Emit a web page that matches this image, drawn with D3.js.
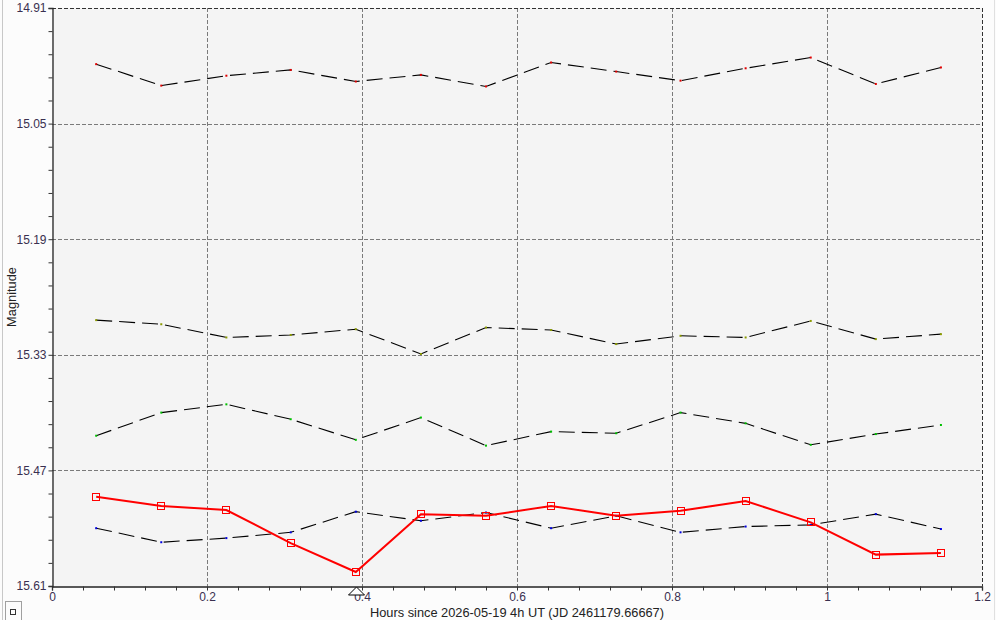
<!DOCTYPE html>
<html>
<head>
<meta charset="utf-8">
<script src="https://cdn.jsdelivr.net/npm/d3@7"></script>
<style>
  body { margin: 0; background: #fcfcfc; }
  svg { display: block; font-family: "Liberation Sans", Arial, sans-serif; }
</style>
</head>
<body>
<svg id="chart" width="996" height="620"></svg>
<script>
// time of each observation (hours since the JD reference)
var hours = [0.057, 0.141, 0.225, 0.308, 0.392, 0.476, 0.560, 0.644, 0.728, 0.811, 0.895, 0.979, 1.063, 1.147];

// target star (red, with square markers)
var targetMag = [15.502, 15.513, 15.518, 15.558, 15.593, 15.523, 15.525, 15.513, 15.525, 15.519, 15.507, 15.533, 15.572, 15.570];

// comparison / check stars (dashed lines)
var comp1Mag = [14.978, 15.004, 14.992, 14.985, 14.999, 14.991, 15.005, 14.976, 14.987, 14.998, 14.983, 14.970, 15.002, 14.982];
var comp2Mag = [15.288, 15.293, 15.309, 15.306, 15.299, 15.329, 15.297, 15.300, 15.317, 15.307, 15.309, 15.289, 15.311, 15.305];
var comp3Mag = [15.428, 15.400, 15.390, 15.408, 15.433, 15.406, 15.440, 15.423, 15.425, 15.400, 15.413, 15.439, 15.426, 15.415];
var comp4Mag = [15.540, 15.557, 15.552, 15.545, 15.520, 15.531, 15.521, 15.540, 15.525, 15.545, 15.538, 15.536, 15.523, 15.541];
var compDotColors = ["#e00000", "#8a9a00", "#00c000", "#0000e0"];

var xTicks = [0, 0.2, 0.4, 0.6, 0.8, 1, 1.2];
var yTicks = [14.91, 15.05, 15.19, 15.33, 15.47, 15.61];
var minimumHour = 0.392; // marked with a triangle under the x axis

var W = 996, H = 620;
var pLeft = 52, pRight = 982, pTop = 8, pBottom = 586;

var svg = d3.select("#chart");

var xScale = d3.scaleLinear().domain([0, 1.2]).range([pLeft, pRight]);
var yScale = d3.scaleLinear().domain([14.91, 15.61]).range([pTop, pBottom]);

// outer frame bits
svg.append("line").attr("x1", 2.5).attr("x2", 2.5).attr("y1", 0).attr("y2", H)
  .attr("stroke", "#c8c8c8");
svg.append("line").attr("x1", 994.5).attr("x2", 994.5).attr("y1", 0).attr("y2", H)
  .attr("stroke", "#e0e0e0");

// plot background
svg.append("rect")
  .attr("x", pLeft).attr("y", pTop)
  .attr("width", pRight - pLeft).attr("height", pBottom - pTop)
  .attr("fill", "#f4f4f4");

// grid
svg.selectAll("line.vgrid")
  .data(xTicks.slice(1, -1))
  .enter().append("line")
  .attr("class", "vgrid")
  .attr("x1", function(d) { return Math.round(xScale(d)) + 0.5; })
  .attr("x2", function(d) { return Math.round(xScale(d)) + 0.5; })
  .attr("y1", pTop).attr("y2", pBottom)
  .attr("stroke", "#7a7a7a").attr("stroke-dasharray", "4,2");

svg.selectAll("line.hgrid")
  .data(yTicks.slice(1, -1))
  .enter().append("line")
  .attr("class", "hgrid")
  .attr("y1", function(d) { return Math.round(yScale(d)) + 0.5; })
  .attr("y2", function(d) { return Math.round(yScale(d)) + 0.5; })
  .attr("x1", pLeft).attr("x2", pRight)
  .attr("stroke", "#7a7a7a").attr("stroke-dasharray", "4,2");

// top and right border (dashed, darker)
svg.append("line").attr("x1", pLeft).attr("x2", pRight)
  .attr("y1", pTop + 0.5).attr("y2", pTop + 0.5)
  .attr("stroke", "#333").attr("stroke-dasharray", "4,2");
svg.append("line").attr("x1", pRight + 0.5).attr("x2", pRight + 0.5)
  .attr("y1", pTop).attr("y2", pBottom)
  .attr("stroke", "#333").attr("stroke-dasharray", "4,2");

// axes
var xAxis = d3.axisBottom(xScale)
  .tickValues(d3.range(0, 31).map(function(i) { return i * 0.04; }))
  .tickSize(4)
  .tickFormat(function(d, i) { return i % 5 === 0 ? d3.format("~g")(+d.toFixed(2)) : ""; });

var yAxis = d3.axisLeft(yScale)
  .tickValues(d3.range(0, 26).map(function(i) { return 14.91 + i * 0.028; }))
  .tickSize(4)
  .tickFormat(function(d, i) { return i % 5 === 0 ? d.toFixed(2) : ""; });

var gx = svg.append("g")
  .attr("transform", "translate(0," + (pBottom + 0.5) + ")")
  .call(xAxis);
var gy = svg.append("g")
  .attr("transform", "translate(" + (pLeft + 0.5) + ",0)")
  .call(yAxis);

[gx, gy].forEach(function(g) {
  g.select(".domain").attr("stroke", "#222").attr("stroke-width", 1.3);
  g.selectAll(".tick line").attr("stroke", "#333");
  g.selectAll(".tick text")
    .attr("fill", "#3a3050")
    .style("font-size", "12px")
    .style("font-family", "'Liberation Sans', Arial, sans-serif");
});
gx.selectAll(".tick text").attr("dy", "0.6em").attr("y", 7);
gy.selectAll(".tick text").attr("x", -6);

// axis titles
svg.append("text")
  .attr("x", (pLeft + pRight) / 2)
  .attr("y", 617)
  .attr("text-anchor", "middle")
  .attr("fill", "#222")
  .style("font-size", "12.8px")
  .text("Hours since 2026-05-19 4h UT (JD 2461179.66667)");

svg.append("text")
  .attr("transform", "translate(16," + ((pTop + pBottom) / 2) + ") rotate(-90)")
  .attr("text-anchor", "middle")
  .attr("fill", "#222")
  .style("font-size", "12.8px")
  .text("Magnitude");

// comparison stars
var line = d3.line()
  .x(function(d) { return xScale(d[0]); })
  .y(function(d) { return yScale(d[1]); });

[comp1Mag, comp2Mag, comp3Mag, comp4Mag].forEach(function(series, k) {
  var pts = hours.map(function(t, i) { return [t, series[i]]; });
  svg.append("path")
    .datum(pts)
    .attr("d", line)
    .attr("fill", "none")
    .attr("stroke", "#000")
    .attr("stroke-width", 1.1)
    .attr("stroke-dasharray", "16,7");
  svg.selectAll(null)
    .data(pts)
    .enter().append("rect")
    .attr("x", function(d) { return xScale(d[0]) - 1; })
    .attr("y", function(d) { return yScale(d[1]) - 1; })
    .attr("width", 2).attr("height", 2)
    .attr("fill", compDotColors[k]);
});

// target star
var targetPts = hours.map(function(t, i) { return [t, targetMag[i]]; });
svg.append("path")
  .datum(targetPts)
  .attr("d", line)
  .attr("fill", "none")
  .attr("stroke", "#ff0000")
  .attr("stroke-width", 2);

svg.selectAll("rect.marker")
  .data(targetPts)
  .enter().append("rect")
  .attr("class", "marker")
  .attr("x", function(d) { return Math.round(xScale(d[0])) - 3.5; })
  .attr("y", function(d) { return Math.round(yScale(d[1])) - 3.5; })
  .attr("width", 7).attr("height", 7)
  .attr("fill", "none")
  .attr("stroke", "#ff0000")
  .attr("stroke-width", 1);

// minimum marker
var mx = Math.round(xScale(minimumHour)) + 0.5;
svg.append("path")
  .attr("d", "M" + mx + "," + (pBottom + 1) + " L" + (mx + 8) + "," + (pBottom + 9) +
    " L" + (mx - 8) + "," + (pBottom + 9) + " Z")
  .attr("fill", "#fff")
  .attr("stroke", "#000")
  .attr("stroke-width", 1);

// little legend toggle box bottom-left
svg.append("rect").attr("x", 5.5).attr("y", 601.5).attr("width", 16).attr("height", 20)
  .attr("fill", "#fcfcfc").attr("stroke", "#a0a0a0");
svg.append("rect").attr("x", 10.5).attr("y", 609.5).attr("width", 5).attr("height", 5)
  .attr("fill", "none").attr("stroke", "#333");
</script>
</body>
</html>
